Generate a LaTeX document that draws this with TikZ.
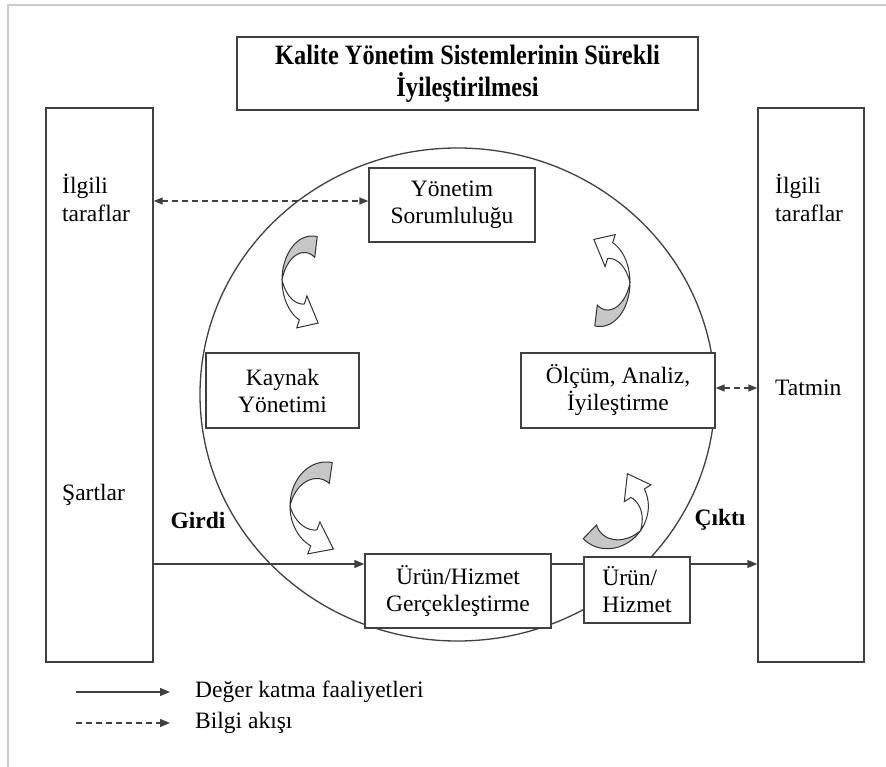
\documentclass[tikz,border=0pt]{standalone}
\usepackage{fontspec}
\setmainfont{Liberation Serif}
\newfontfamily\titlefont[FakeStretch=0.87]{Liberation Serif}
\usetikzlibrary{arrows.meta,calc}
\tikzset{
  carrow/.pic={
    \filldraw[fill=black!22, draw=black!80, line width=1pt]
      plot[domain=80:180, samples=25, smooth] ({cos(\x)},{sin(\x)})
      -- plot[domain=180:80, samples=25, smooth] ({(1-0.48*(180-\x)/100)*cos(\x)},{(1-0.48*(180-\x)/100)*sin(\x)}) -- cycle;
    \filldraw[fill=white, draw=black!80, line width=1pt]
      plot[domain=180:245, samples=20, smooth] ({cos(\x)},{sin(\x)})
      -- (245:1.2) -- ($(245:0.8)+(335:0.6)$) -- (245:0.4)
      -- plot[domain=245:180, samples=20, smooth] ({(1-0.4*(\x-180)/65)*cos(\x)},{(1-0.4*(\x-180)/65)*sin(\x)}) -- cycle;
  }
}
\begin{document}
\begin{tikzpicture}[x=1pt,y=-1pt,
  ln/.style={draw=black!75, line width=1.3pt},
  box/.style={ln, fill=white, rectangle, inner sep=0pt, align=center, font=\fontsize{23.5}{27}\selectfont},
  side/.style={ln, fill=white, rectangle, minimum height=554pt, inner sep=0pt},
  tipend/.style={-{Triangle[length=10pt,width=8pt]}},
  dtip/.style={{Triangle[length=9pt,width=7pt]}-{Triangle[length=9pt,width=7pt]}, dash pattern=on 6pt off 4pt},
  lbl/.style={font=\fontsize{23.5}{28}\selectfont, align=left, anchor=west, inner sep=0pt},
  bl/.style={font=\bfseries\fontsize{23.5}{27}\selectfont, inner sep=0pt},
]
\useasboundingbox (0,0) rectangle (886,767);
\fill[white] (0,0) rectangle (886,767);
\draw[black!20, line width=1.5pt] (8,767) -- (8,5) -- (886,5);

% title
\node[ln, rectangle, minimum width=461pt, minimum height=73pt, inner sep=0pt, align=center,
      font=\titlefont\bfseries\fontsize{28}{32}\selectfont] (title) at (467.5,73.5)
      {Kalite Yönetim Sistemlerinin Sürekli\\İyileştirilmesi};

% side boxes
\node[side, minimum width=107pt] (L) at (99.5,385) {};
\node[side, minimum width=106pt] (R) at (811,385) {};

% circle
\draw[ln] (457.5,394.5) ellipse [x radius=257.5pt, y radius=246.5pt];

% process boxes
\node[box, minimum width=166pt, minimum height=74pt] (yon) at (452,205) {Yönetim\\Sorumluluğu};
\node[box, minimum width=153pt, minimum height=75pt] (kay) at (282.5,390.5) {Kaynak\\Yönetimi};
\node[box, minimum width=194pt, minimum height=75pt] (olc) at (618,390.5) {Ölçüm, Analiz,\\İyileştirme};
\node[box, minimum width=186pt, minimum height=74pt] (ger) at (458,591) {Ürün/Hizmet\\Gerçekleştirme};
\node[box, minimum width=106pt, minimum height=66pt, align=left] (urn) at (637,590) {Ürün/\\Hizmet};

% side texts
\node[lbl] (li) at (62,198) {İlgili\\taraflar};
\node[lbl] (ri) at (775,198) {İlgili\\taraflar};
\node[lbl] (sart) at (62,495) {Şartlar};
\node[lbl] (tat) at (775,388) {Tatmin};
\node[bl] (girdi) at (198,520) {Girdi};
\node[bl] (cikti) at (720,520) {Çıktı};

% connectors
\coordinate (yl) at (0,564);
\coordinate (yd) at (0,201);
\draw[ln, tipend] (L.east |- yl) -- (ger.west |- yl);
\draw[ln] (ger.east |- yl) -- (urn.west |- yl);
\draw[ln, tipend] (urn.east |- yl) -- (R.west |- yl);
\draw[ln, dtip] (L.east |- yd) -- (yon.west |- yd);
\draw[ln, dtip] (olc.east |- tat) -- (R.west |- tat);

% curved arrows
\pic[xscale=30, yscale=-44] at (312,280) {carrow};
\pic[xscale=-30, yscale=44] at (600,282.5) {carrow};
\pic[xscale=36, yscale=-44] at (326,506) {carrow};
\pic[rotate=145, xscale=36, yscale=-40] at (611,510) {carrow};

% legend
\coordinate (la1) at (76,692);
\coordinate (la2) at (170,692);
\coordinate (lb1) at (76,723);
\coordinate (lb2) at (170,723);
\draw[ln, tipend] (la1) -- (la2);
\draw[ln, tipend, dash pattern=on 6pt off 4pt] (lb1) -- (lb2);
\node[lbl] (lt1) at (195,692) {Değer katma faaliyetleri};
\node[lbl] (lt2) at (195,723) {Bilgi akışı};
\end{tikzpicture}
\end{document}
